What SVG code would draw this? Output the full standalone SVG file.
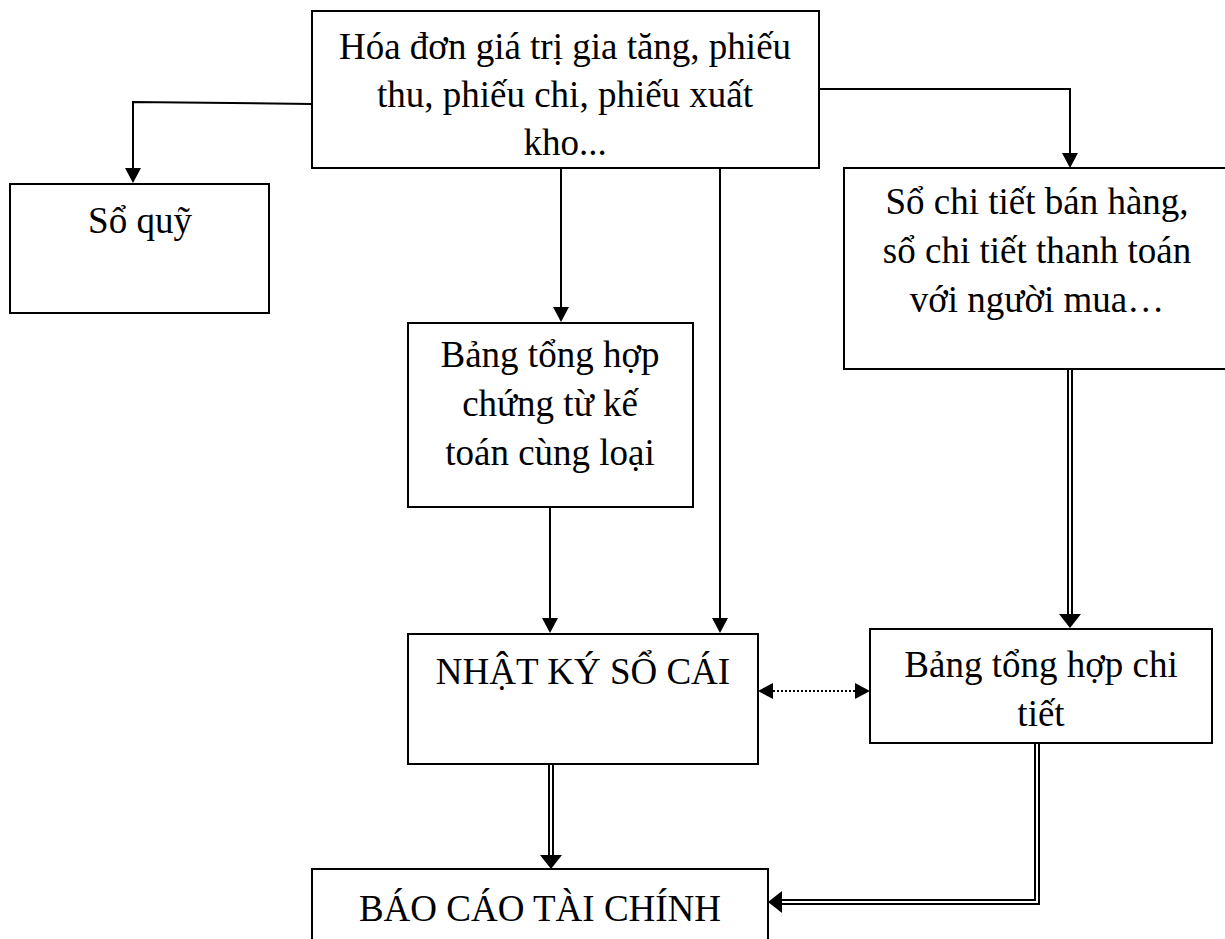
<svg xmlns="http://www.w3.org/2000/svg" width="1225" height="939" viewBox="0 0 1225 939">
  <style>
    .box { fill: #fff; stroke: #000; stroke-width: 2; }
    .lbl { font-family: "Liberation Serif", "Times New Roman", serif; font-size: 37px; fill: #000; text-anchor: middle; }
    .ln { fill: none; stroke: #000; stroke-width: 2; }
    .dot { fill: none; stroke: #000; stroke-width: 2; stroke-dasharray: 2 2; }
    .dbl { fill: none; stroke: #000; stroke-width: 6; stroke-linejoin: miter; }
    .dbl-in { fill: none; stroke: #fff; stroke-width: 2; stroke-linejoin: miter; }
  </style>
  <defs>
    <marker id="arr" markerUnits="userSpaceOnUse" viewBox="0 0 15 16" refX="0" refY="8" markerWidth="15" markerHeight="16" orient="auto-start-reverse">
      <path d="M0,0 L15,8 L0,16 z" fill="#000"/>
    </marker>
    <marker id="arrD" markerUnits="userSpaceOnUse" viewBox="0 0 14 22" refX="0" refY="11" markerWidth="14" markerHeight="22" orient="auto">
      <path d="M0,0 L14,11 L0,22 z" fill="#000"/>
    </marker>
  </defs>

  <g id="connectors">
    <path class="ln" d="M312,104 L133,102 L133,168" marker-end="url(#arr)"/>
    <path class="ln" d="M819,89 L1070,89 L1070,153" marker-end="url(#arr)"/>
    <path class="ln" d="M561,168 L561,307" marker-end="url(#arr)"/>
    <path class="ln" d="M720,168 L720,618" marker-end="url(#arr)"/>
    <path class="ln" d="M550,507 L550,618" marker-end="url(#arr)"/>
    <path class="dot" d="M773,691 L855,691" marker-start="url(#arr)" marker-end="url(#arr)"/>
    <path class="dbl" d="M1070,370 L1070,614" marker-end="url(#arrD)"/>
    <path class="dbl-in" d="M1070,370 L1070,614"/>
    <path class="dbl" d="M551,764 L551,855" marker-end="url(#arrD)"/>
    <path class="dbl-in" d="M551,764 L551,855"/>
    <path class="dbl" d="M1037,743 L1037,902 L782,902" marker-end="url(#arrD)"/>
    <path class="dbl-in" d="M1037,743 L1037,902 L782,902"/>
  </g>

  <g id="chung-tu">
    <rect class="box" x="312" y="11" width="507" height="157"/>
    <text class="lbl" x="565" y="59">Hóa đơn giá trị gia tăng, phiếu</text>
    <text class="lbl" x="565" y="107">thu, phiếu chi, phiếu xuất</text>
    <text class="lbl" x="565" y="155">kho...</text>
  </g>

  <g id="so-quy">
    <rect class="box" x="10" y="184" width="259" height="129"/>
    <text class="lbl" x="140" y="233">Sổ quỹ</text>
  </g>

  <g id="so-chi-tiet">
    <rect class="box" x="844" y="168" width="384" height="201"/>
    <text class="lbl" x="1037" y="214">Sổ chi tiết bán hàng,</text>
    <text class="lbl" x="1037" y="263">sổ chi tiết thanh toán</text>
    <text class="lbl" x="1037" y="312">với người mua…</text>
  </g>

  <g id="bang-tong-hop-chung-tu">
    <rect class="box" x="408" y="323" width="285" height="184"/>
    <text class="lbl" x="550" y="367">Bảng tổng hợp</text>
    <text class="lbl" x="550" y="416">chứng từ kế</text>
    <text class="lbl" x="550" y="465">toán cùng loại</text>
  </g>

  <g id="nhat-ky-so-cai">
    <rect class="box" x="408" y="634" width="350" height="130"/>
    <text class="lbl" x="583" y="684">NHẬT KÝ SỔ CÁI</text>
  </g>

  <g id="bang-tong-hop-chi-tiet">
    <rect class="box" x="870" y="629" width="342" height="114"/>
    <text class="lbl" x="1041" y="677">Bảng tổng hợp chi</text>
    <text class="lbl" x="1041" y="726">tiết</text>
  </g>

  <g id="bao-cao-tai-chinh">
    <rect class="box" x="312" y="869" width="456" height="80"/>
    <text class="lbl" x="540" y="921">BÁO CÁO TÀI CHÍNH</text>
  </g>
</svg>
